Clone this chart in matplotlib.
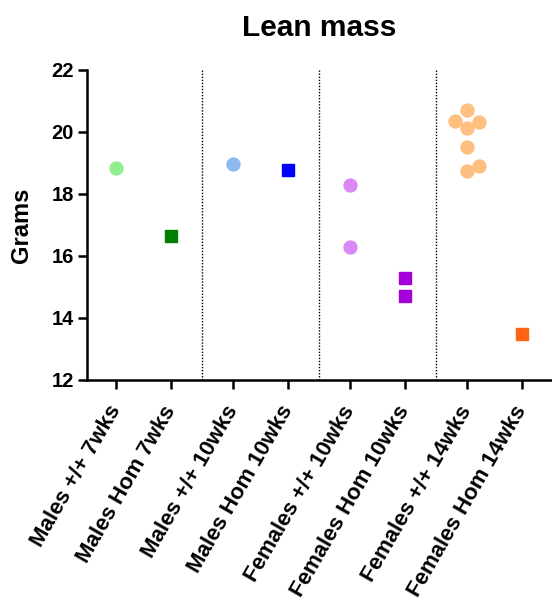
import numpy as np
import matplotlib.pyplot as plt

plt.rcParams['font.family'] = ['Liberation Sans', 'DejaVu Sans']
plt.rcParams['font.weight'] = 'bold'

# groups on the x axis
groups = ['Males +/+ 7wks', 'Males Hom 7wks', 'Males +/+ 10wks', 'Males Hom 10wks',
          'Females +/+ 10wks', 'Females Hom 10wks', 'Females +/+ 14wks', 'Females Hom 14wks']

# lean mass (grams)
males_wt_7 = [18.83]
males_hom_7 = [16.65]
males_wt_10 = [18.97]
males_hom_10 = [18.76]
females_wt_10 = [18.30, 16.30]
females_hom_10 = [15.30, 14.70]
females_wt_14 = [20.70, 20.35, 20.33, 20.12, 19.51, 18.90, 18.74]
females_hom_14 = [13.47]

series = [males_wt_7, males_hom_7, males_wt_10, males_hom_10,
          females_wt_10, females_hom_10, females_wt_14, females_hom_14]
markers = ['o', 's', 'o', 's', 'o', 's', 'o', 's']
colors = ['#90EE90', '#007F00', '#8CB9F0', '#0000FF',
          '#DA88F6', '#A300DA', '#FFBF80', '#FF6412']

# pairs are separated by a slightly larger gap
gap = 0.127
xpos = np.array([i + (i // 2) * gap for i in range(len(groups))])

fig = plt.figure(figsize=(5.52, 6.07), dpi=100)
ax = fig.add_axes([0.158, 0.374, 0.842, 0.511])
ax.set_xlim(xpos[0] - 0.53, xpos[-1] + 0.55)
ax.set_ylim(12, 22)


def swarm(ax, x0, vals, diam):
    # simple beeswarm in pixel space so the points don't overlap
    pts = ax.transData.transform([(x0, v) for v in vals])
    cx = pts[0, 0]
    placed = []
    out = np.zeros(len(vals))
    for i in np.argsort(pts[:, 1]):
        y = pts[i, 1]
        cands = [0.0]
        for px, py in placed:
            dy = abs(py - y)
            if dy < diam:
                dx = np.sqrt(diam ** 2 - dy ** 2)
                cands += [px - cx + dx, px - cx - dx]
        cands.sort(key=abs)
        for c in cands:
            if all((cx + c - px) ** 2 + (y - py) ** 2 >= diam ** 2 - 1e-6 for px, py in placed):
                break
        placed.append((cx + c, y))
        out[i] = cx + c
    inv = ax.transData.inverted()
    return inv.transform(np.column_stack([out, pts[:, 1]]))[:, 0]


for x0, vals, m, c in zip(xpos, series, markers, colors):
    xs = swarm(ax, x0, vals, 13.5)
    ax.plot(xs, vals, linestyle='none', marker=m, markersize=9.3,
            markerfacecolor=c, markeredgecolor=c, zorder=3)

# dotted separators between the age groups
for k in range(1, 4):
    xm = (xpos[2 * k - 1] + xpos[2 * k]) / 2
    ax.axvline(xm, color='black', linestyle=(0, (1, 1.2)), linewidth=1.0, zorder=1)

ax.set_yticks(np.arange(12, 23, 2))
ax.tick_params(axis='both', length=6.5, width=1.8)
ax.tick_params(axis='y', labelsize=14.5, pad=3)
ax.tick_params(axis='x', pad=13)
ax.set_xticks(xpos)
ax.set_xticklabels(groups, rotation=60, ha='right', va='center',
                   rotation_mode='anchor', fontsize=16, fontweight='bold')
for lab in ax.get_yticklabels():
    lab.set_fontweight('bold')

for s in ['top', 'right']:
    ax.spines[s].set_visible(False)
for s in ['left', 'bottom']:
    ax.spines[s].set_linewidth(1.8)

ax.set_ylabel('Grams', fontsize=17, fontweight='bold')
ax.yaxis.set_label_coords(-0.117, 0.5)
ax.set_title('Lean mass', fontsize=21.5, fontweight='bold', pad=24)

fig.savefig('out.png', dpi=100, facecolor='white')
